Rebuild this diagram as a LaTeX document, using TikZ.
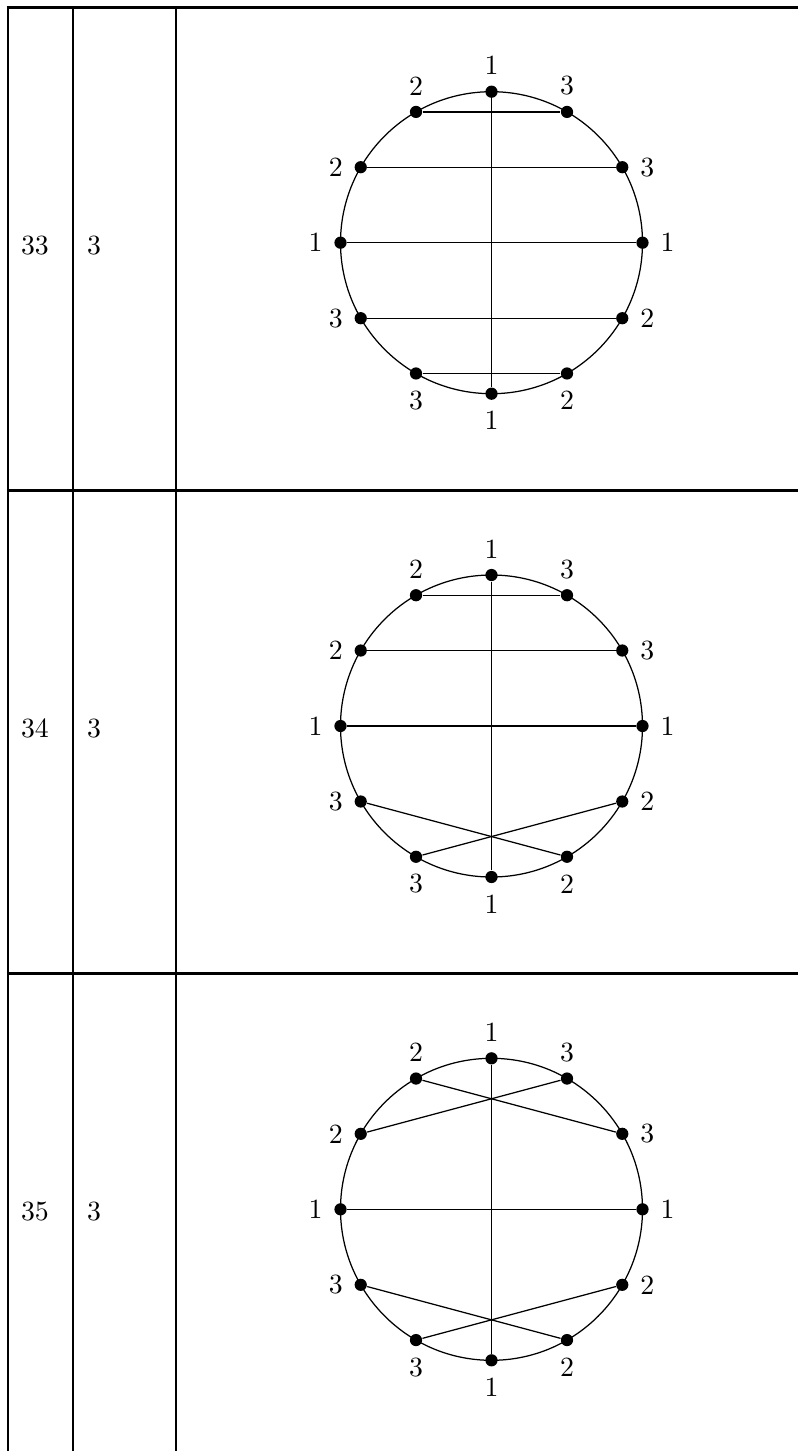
\documentclass[tikz,border=0pt]{standalone}
\usetikzlibrary{positioning,calc}

\begin{document}
\begin{tikzpicture}[
    x=0.36pt, y=0.36pt,
    dot/.style={circle, fill=black, inner sep=0pt, minimum size=4.4pt},
    chord/.style={line width=0.45pt},
    hrule/.style={line width=1.1pt},
    vrule/.style={line width=0.75pt},
    cell/.style={anchor=base west, inner sep=0pt},
    num/.style={inner sep=0pt}
]
    \useasboundingbox (0,0) rectangle (798,-1451);

    % table rules
    \draw[vrule] (7.7,-6.6) -- (7.7,-1451);
    \draw[vrule] (73,-6.6) -- (73,-1451);
    \draw[vrule] (176,-6.6) -- (176,-1451);
    \foreach \y in {7.2,490.5,973.8}
        \draw[hrule] (6.6,-\y) -- (798,-\y);

    % one row per diagram: name/number/centre/chords
    \foreach \r/\n/\cy/\chords in {
        a/33/242.7/{0/6,1/11,2/10,3/9,4/8,5/7},
        b/34/726/{0/6,1/11,2/10,3/9,4/7,8/5},
        c/35/1209.3/{0/6,1/10,2/11,3/9,4/7,5/8}}
    {
        \node[cell] (id\r) at (20.5,-\cy-11.3) {\n};
        \node[cell] (kval\r) at (86.5,-\cy-11.3) {3};
        \coordinate (ctr\r) at (491.5,-\cy);
        \draw[chord] (ctr\r) circle (151);
        \foreach \a/\l/\dx/\dy [count=\i from 0] in {90/1/0/26, 120/2/0/26,
            150/2/-25/0, 180/1/-25/0, 210/3/-25/0, 240/3/0/-27, 270/1/0/-27,
            300/2/0/-27, 330/2/25/0, 0/1/25/0, 30/3/25/0, 60/3/0/26}
        {
            \node[dot] (p\r\i) at ($(ctr\r)+(\a:151)$) {};
            \node[num] (l\r\i) at ($(p\r\i)+(\dx,\dy)$) {\l};
        }
        \foreach \s/\t in \chords
            \draw[chord] (p\r\s) -- (p\r\t);
    }
\end{tikzpicture}
\end{document}
